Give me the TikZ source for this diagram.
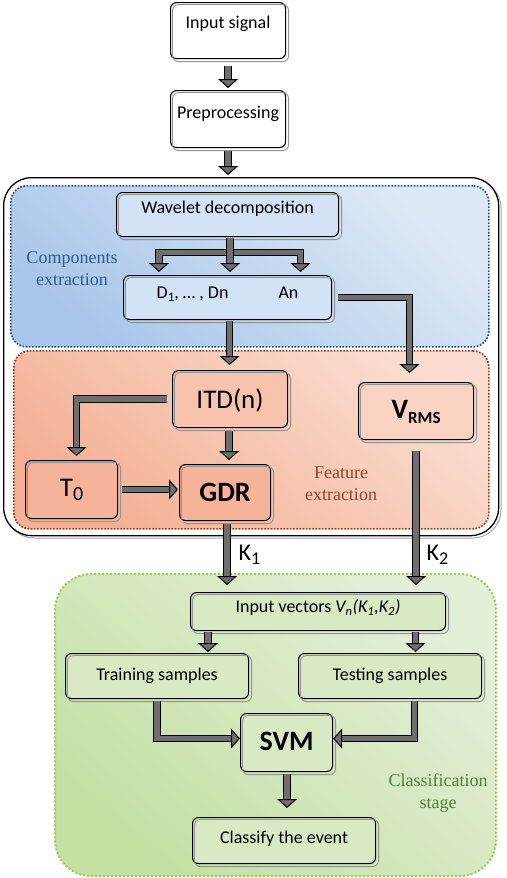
\documentclass[tikz,border=0pt]{standalone}
\usepackage{fontspec}
\setmainfont{Carlito}
\newfontfamily\serifl{Liberation Serif}
\usetikzlibrary{arrows.meta}
\definecolor{arrgray}{HTML}{6E6E6E}
\definecolor{bluedot}{HTML}{1F4E79}
\definecolor{browndot}{HTML}{8B3A1A}
\definecolor{greendot}{HTML}{92D050}
\definecolor{bluelab}{HTML}{2E5C8A}
\definecolor{brownlab}{HTML}{8B4530}
\definecolor{greenlab}{HTML}{4F7F3F}
\definecolor{bluebox}{HTML}{D3E2F4}
\definecolor{orangebox}{HTML}{F8C3AC}
\definecolor{orangebox2}{HTML}{F5B499}
\definecolor{greenbox}{HTML}{D8E9C4}
\tikzset{
  box/.style={draw=black, line width=1.1pt, rounded corners=6pt, inner sep=0pt,
    anchor=north west, align=center, font=\fontsize{18}{21}\selectfont},
  shl/.style={draw=gray!85, line width=0.9pt, rounded corners=6pt},
  region/.style={anchor=north west, inner sep=0pt, rounded corners=16pt, line width=1.7pt},
  blk/.style={draw=black, line width=1pt, double=arrgray, double distance=5.5pt,
    -{Triangle[width=20pt,length=9pt,fill=arrgray,line width=1pt]}},
  blkb/.style={draw=black, line width=1pt, double=arrgray, double distance=5.5pt,
    {Triangle[width=20pt,length=9pt,fill=arrgray,line width=1pt]}-{Triangle[width=20pt,length=9pt,fill=arrgray,line width=1pt]}},
  lab/.style={align=center, font=\serifl\fontsize{18}{22}\selectfont},
  klab/.style={anchor=west, font=\fontsize{24}{24}\selectfont}
}
\begin{document}
\begin{tikzpicture}[x=1pt,y=-1pt]
\useasboundingbox (0,0) rectangle (506,878);
% regions
\draw[gray!70, line width=1pt, rounded corners=28pt] (6,180) rectangle (501,538);
\node[region, draw=black, fill=white, rounded corners=28pt, line width=1.3pt,
  minimum width=495pt, minimum height=358pt] (outer) at (3,177) {};
\node[region, draw=bluedot, dash pattern=on 1.6pt off 1.6pt,
  top color={rgb,255:red,222;green,233;blue,246}, bottom color={rgb,255:red,168;green,198;blue,234}, shading angle=-40,
  minimum width=478pt, minimum height=161pt] (blue) at (10,185) {};
\node[region, draw=browndot, dash pattern=on 1.6pt off 1.6pt,
  top color={rgb,255:red,250;green,221;blue,208}, bottom color={rgb,255:red,244;green,176;blue,148}, shading angle=-40,
  minimum width=475pt, minimum height=178pt] (orange) at (13,350) {};
\node[region, draw=greendot, line width=2pt, dash pattern=on 2pt off 2pt, rounded corners=36pt,
  top color={rgb,255:red,228;green,239;blue,216}, bottom color={rgb,255:red,196;green,224;blue,163}, shading angle=-40,
  minimum width=441pt, minimum height=302pt] (green) at (54,573) {};
% labels
\node[lab, text=bluelab] (lblc) at (72,269) {Components\\extraction};
\node[lab, text=brownlab] (lblf) at (341,484) {Feature\\extraction};
\node[lab, text=greenlab] (lbls) at (438,793) {Classification\\stage};
% boxes
\node[box, fill=white, minimum width=115pt, text height=26pt, text depth=30pt] (inp) at (170,2) {Input signal};
\node[box, fill=white, minimum width=115pt, text height=27.5pt, text depth=29.5pt] (pre) at (170,90) {Preprocessing};
\node[box, fill=bluebox, minimum width=222pt, text height=21pt, text depth=23pt] (wav) at (116,192) {Wavelet decomposition};
\node[box, fill=bluebox, minimum width=208pt, text height=23pt, text depth=21pt] (dbx) at (123,275)
  {D\raisebox{-3pt}{\fontsize{13}{13}\selectfont 1}, … , Dn\hspace{50pt}An};
\node[box, fill=orangebox, minimum width=115pt, text height=38pt, text depth=19pt,
  font=\fontsize{27}{30}\selectfont] (itd) at (172,370) {ITD(n)};
\node[box, fill={rgb,255:red,250;green,210;blue,193}, minimum width=115pt, text height=36pt, text depth=21pt,
  font=\fontsize{28}{30}\selectfont\bfseries] (vrms) at (358,382)
  {V\raisebox{-5pt}{\fontsize{17}{17}\selectfont RMS}};
\node[box, fill=orangebox2, minimum width=92pt, text height=36pt, text depth=22pt,
  font=\fontsize{27}{30}\selectfont] (t0) at (25,460) {T\raisebox{-4pt}{\fontsize{20}{20}\selectfont 0}};
\node[box, fill=orangebox2, minimum width=91pt, text height=37pt, text depth=19pt,
  font=\fontsize{28}{30}\selectfont\bfseries] (gdr) at (179,464) {GDR};
\node[box, fill=greenbox, minimum width=255pt, text height=20pt, text depth=18pt] (ivec) at (190,592)
  {Input vectors \textit{V\textsubscript{n}(K\textsubscript{1},K\textsubscript{2})}};
\node[box, fill=greenbox, minimum width=183pt, text height=26.5pt, text depth=18.5pt] (trn) at (65,653) {Training samples};
\node[box, fill=greenbox, minimum width=183pt, text height=26.5pt, text depth=18.5pt] (tst) at (298,653) {Testing samples};
\node[box, fill=greenbox, minimum width=92pt, text height=37pt, text depth=21pt,
  font=\fontsize{28}{30}\selectfont\bfseries] (svm) at (240,713) {SVM};
\node[box, fill=greenbox, minimum width=183pt, text height=26pt, text depth=20pt] (cls) at (192,817) {Classify the event};
% shadow outlines
\foreach \n in {inp,pre,wav,dbx,itd,vrms,t0,gdr,ivec,trn,tst,svm,cls}
  \draw[shl] ([shift={(2.5,2.5)}]\n.north west) rectangle ([shift={(2.5,2.5)}]\n.south east);
% column coordinates
\coordinate (bl) at (159,272);
\coordinate (br) at (300.5,272);
\coordinate (bm) at (229.5,252.5);
\coordinate (xL) at (208,0);
\coordinate (xR) at (415.5,0);
% arrows
\draw[blk, shorten <=7pt, shorten >=2pt] (inp.south) -- (pre.north);
\draw[blk, shorten <=3pt, shorten >=2pt] (pre.south) -- (pre.south |- outer.north);
\draw[blkb] (bl) |- (bm) -| (br);
\draw[blk, shorten <=1pt, shorten >=3pt] ([xshift=2.5pt]wav.south) -- ([xshift=2.5pt]wav.south |- dbx.north);
\draw[blk, shorten <=1pt, shorten >=5pt] ([xshift=2pt]dbx.south) -- ([xshift=2pt]dbx.south |- itd.north);
\draw[blk, shorten <=6pt, shorten >=9pt] (dbx.east) -| ([xshift=-6.5pt]vrms.north);
\draw[blk, shorten <=5pt, shorten >=4pt] (itd.west) -| ([xshift=5pt]t0.north);
\draw[blk, shorten <=3pt, shorten >=4pt] ([xshift=-1pt]itd.south) -- ([xshift=-1pt]itd.south |- gdr.north);
\draw[blk, shorten <=4pt, shorten >=1pt] (t0.east) -- (t0.east -| gdr.west);
\draw[blk, shorten <=3pt, shorten >=7pt] ([xshift=2pt]gdr.south) -- ([xshift=2pt]gdr.south |- ivec.north);
\draw[blk, shorten <=11pt, shorten >=7pt] (vrms.south) -- (vrms.south |- ivec.north);
\node[klab] (k1) at (235,555) {K\raisebox{-4pt}{\fontsize{18}{18}\selectfont 1}};
\node[klab] (k2) at (423,555) {K\raisebox{-4pt}{\fontsize{18}{18}\selectfont 2}};
\draw[blk, shorten <=1pt, shorten >=1pt] (ivec.south -| xL) -- (trn.north -| xL);
\draw[blk, shorten <=1pt, shorten >=1pt] (ivec.south -| xR) -- (tst.north -| xR);
\draw[blk, shorten <=2pt] (trn.south) |- ([yshift=4pt]svm.west);
\draw[blk, shorten <=2pt] ([xshift=24.5pt]tst.south) |- ([yshift=4pt]svm.east);
\draw[blk, shorten <=2pt, shorten >=9pt] ([xshift=0.5pt]svm.south) -- ([xshift=0.5pt]svm.south |- cls.north);
\end{tikzpicture}
\end{document}
